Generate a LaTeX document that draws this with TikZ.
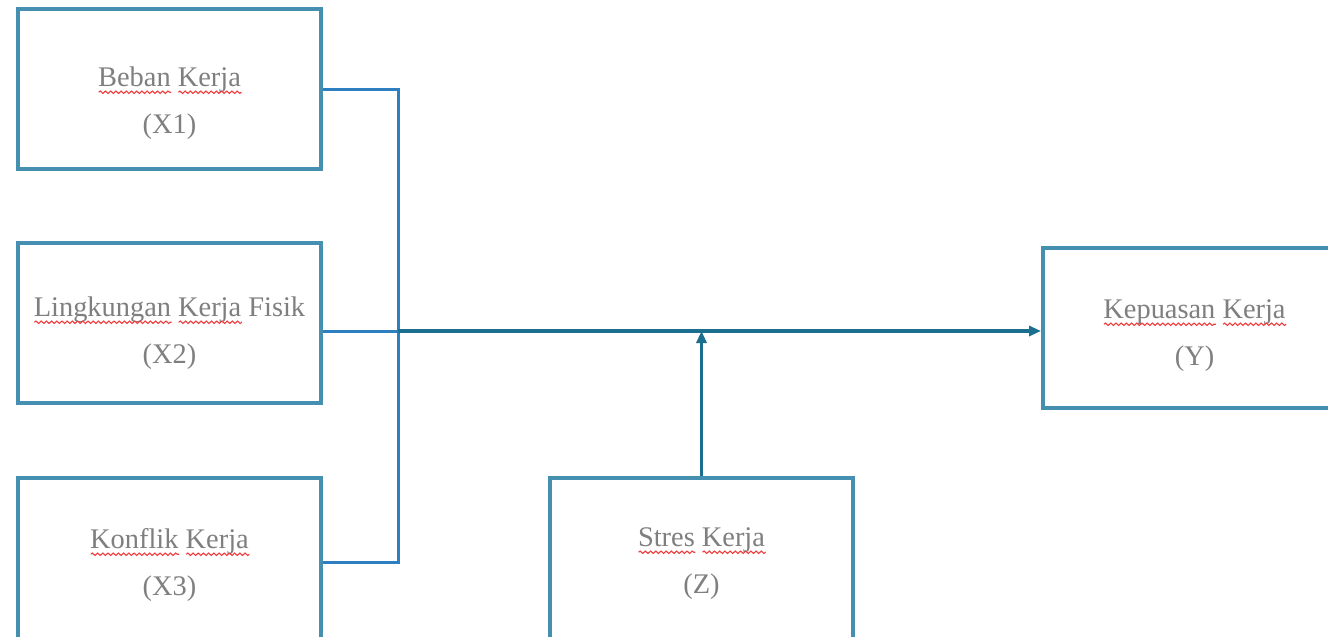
\documentclass[tikz,border=0pt]{standalone}
\usepackage{fontspec}
\setmainfont{Liberation Serif}
\definecolor{boxTeal}{HTML}{4590B0}
\definecolor{linkBlue}{HTML}{2E7EC2}
\definecolor{mainTeal}{HTML}{1C6E8E}
\definecolor{textGray}{HTML}{7F7F7F}
\definecolor{waveRed}{HTML}{F03C3C}
\usetikzlibrary{
  positioning,
  arrows.meta,
  decorations.pathmorphing
}
% Red wavy underline of the spell checker.
\newsavebox{\wordbox}
\newcommand{\spellwave}[1]{%
  \sbox{\wordbox}{#1}%
  \rlap{\usebox{\wordbox}}%
  \makebox[\wd\wordbox][l]{\smash{\raisebox{-4pt}{\tikz\draw[waveRed, line width=0.55pt,
    decorate, decoration={snake, amplitude=0.6pt, segment length=2.6pt}]
    (0pt,0pt) -- (\wd\wordbox,0pt);}}}%
}

\begin{document}
\begin{tikzpicture}[
    x = 0.5pt, y = -0.5pt,
    % Boxes.
    varbox/.style = {
      draw = boxTeal,
      line width = 2pt,
      fill = white,
      minimum width = 151.5pt,
      minimum height = 80pt,
      align = center,
      text = textGray,
      text depth = 0pt,
      font = \fontsize{14.2}{23.5}\selectfont
    },
    % Links.
    bracket/.style = {
      draw = linkBlue,
      line width = 1.5pt
    },
    effect/.style = {
      draw = mainTeal,
      line width = 1.6pt,
      -{Triangle[length=6pt, width=5pt]}
    }
  ]
  \clip (0,0) rectangle (1328,637);
  \fill[white] (0,0) rectangle (1328,637);

  % Independent variables.
  \node[varbox, text height = 44pt] (x1) at (169.5,89) {\spellwave{Beban} \spellwave{Kerja}\\(X1)};
  \node[varbox, text height = 40pt] (x2) at (169.5,323) {\spellwave{Lingkungan} \spellwave{Kerja} Fisik\\(X2)};
  \node[varbox, text height = 33pt, minimum height = 84pt] (x3) at (169.5,562) {\spellwave{Konflik} \spellwave{Kerja}\\(X3)};

  % Moderator and dependent variable.
  \node[varbox, text height = 31pt, minimum height = 84pt] (z) at (701.5,562) {\spellwave{Stres} \spellwave{Kerja}\\(Z)};
  \node[varbox, text height = 37pt] (y) at (1194.5,328) {\spellwave{Kepuasan} \spellwave{Kerja}\\(Y)};

  \coordinate (hub) at (398,331);

  % Links.
  \draw[bracket] (x1.east) -| (hub) |- (x3.east);
  \draw[bracket] (x2.east |- hub) -- (hub);
  \draw[effect] (hub) -- (y.west |- hub);
  \draw[effect] (z.north) -- (z.north |- hub);
\end{tikzpicture}
\end{document}
